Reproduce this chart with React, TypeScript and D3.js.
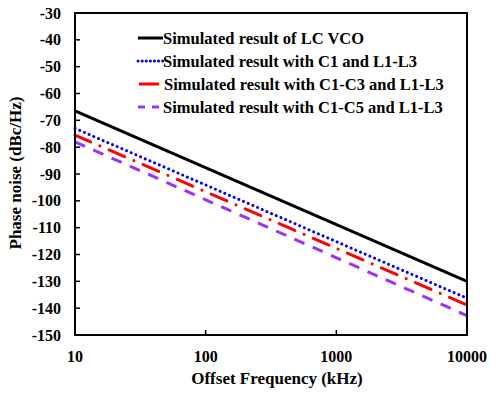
import { useRef, useEffect } from "react";
import * as d3 from "d3";

const freqs = [10, 10000];
const lcVco = [-66.5, -130];
const withC1 = [-73, -136.3];
const withC1C3 = [-75.5, -138.8];
const withC1C5 = [-78, -142.8];
const xTicks = [10, 100, 1000, 10000];
const yTicks = [-150, -140, -130, -120, -110, -100, -90, -80, -70, -60, -50, -40, -30];

const seriesList = [
  { name: "Simulated result of LC VCO", values: lcVco, color: "#000000", dash: null, cap: "butt" },
  { name: "Simulated result with C1 and L1-L3", values: withC1, color: "#0000ff", dash: "0.1 5", cap: "round" },
  { name: "Simulated result with C1-C3 and L1-L3", values: withC1C3, color: "#ff0000", dash: "17 10 0.1 10", cap: "round" },
  { name: "Simulated result with C1-C5 and L1-L3", values: withC1C5, color: "#9b30ff", dash: "11 9", cap: "butt" },
];

const App = () => {
  const svgRef = useRef<SVGSVGElement>(null);

  useEffect(() => {
    const svg = d3.select(svgRef.current);
    svg.selectAll("*").remove();

    const left = 75;
    const right = 467;
    const top = 13;
    const bottom = 335;
    const font = "'Liberation Serif', 'Times New Roman', serif";

    const x = d3.scaleLog().domain([10, 10000]).range([left, right]);
    const y = d3.scaleLinear().domain([-150, -30]).range([bottom, top]);

    const line = d3
      .line<[number, number]>()
      .x((d) => x(d[0]))
      .y((d) => y(d[1]));

    seriesList.forEach((s) => {
      const pts = freqs.map((f, i) => [f, s.values[i]] as [number, number]);
      svg
        .append("path")
        .attr("d", line(pts))
        .attr("fill", "none")
        .attr("stroke", s.color)
        .attr("stroke-width", 3)
        .attr("stroke-linecap", s.cap)
        .attr("stroke-dasharray", s.dash);
    });

    // frame
    svg
      .append("rect")
      .attr("x", left)
      .attr("y", top)
      .attr("width", right - left)
      .attr("height", bottom - top)
      .attr("fill", "none")
      .attr("stroke", "#000")
      .attr("stroke-width", 2);

    yTicks.forEach((t) => {
      svg
        .append("line")
        .attr("x1", left)
        .attr("x2", left + 5)
        .attr("y1", y(t))
        .attr("y2", y(t))
        .attr("stroke", "#000")
        .attr("stroke-width", 1.5);
      svg
        .append("text")
        .attr("x", left - 14)
        .attr("y", y(t))
        .attr("text-anchor", "end")
        .attr("dominant-baseline", "central")
        .style("font-family", font)
        .style("font-weight", "bold")
        .style("font-size", "16px")
        .text(t);
    });

    xTicks.forEach((t) => {
      svg
        .append("line")
        .attr("x1", x(t))
        .attr("x2", x(t))
        .attr("y1", bottom)
        .attr("y2", bottom - 5)
        .attr("stroke", "#000")
        .attr("stroke-width", 1.5);
      svg
        .append("text")
        .attr("x", x(t))
        .attr("y", 362)
        .attr("text-anchor", "middle")
        .style("font-family", font)
        .style("font-weight", "bold")
        .style("font-size", "16px")
        .text(t);
    });

    // axis titles
    svg
      .append("text")
      .attr("x", 277)
      .attr("y", 384)
      .attr("text-anchor", "middle")
      .style("font-family", font)
      .style("font-weight", "bold")
      .style("font-size", "17px")
      .text("Offset Frequency (kHz)");

    svg
      .append("text")
      .attr("transform", "translate(15,173) rotate(-90)")
      .attr("text-anchor", "middle")
      .attr("dominant-baseline", "central")
      .style("font-family", font)
      .style("font-weight", "bold")
      .style("font-size", "17px")
      .text("Phase noise (dBc/Hz)");

    // legend
    const legendY = [38, 61, 84, 107];
    const legendDash = [null, "0.1 4", null, "7 7"];
    seriesList.forEach((s, i) => {
      svg
        .append("line")
        .attr("x1", i === 2 ? 139 : 138)
        .attr("x2", i === 2 ? 159 : 163)
        .attr("y1", legendY[i])
        .attr("y2", legendY[i])
        .attr("stroke", s.color)
        .attr("stroke-width", 3)
        .attr("stroke-linecap", i === 1 ? "round" : "butt")
        .attr("stroke-dasharray", legendDash[i]);
      svg
        .append("text")
        .attr("x", i === 2 ? 164 : 163)
        .attr("y", legendY[i])
        .attr("dominant-baseline", "central")
        .style("font-family", font)
        .style("font-weight", "bold")
        .style("font-size", "16.5px")
        .text(s.name);
    });
  }, []);

  return (
    <div style={{ position: "fixed", left: 0, top: 0, width: 490, height: 394, overflow: "hidden" }}>
      <svg ref={svgRef} width={490} height={394} style={{ display: "block", background: "#fff" }} />
    </div>
  );
};

export default App;
